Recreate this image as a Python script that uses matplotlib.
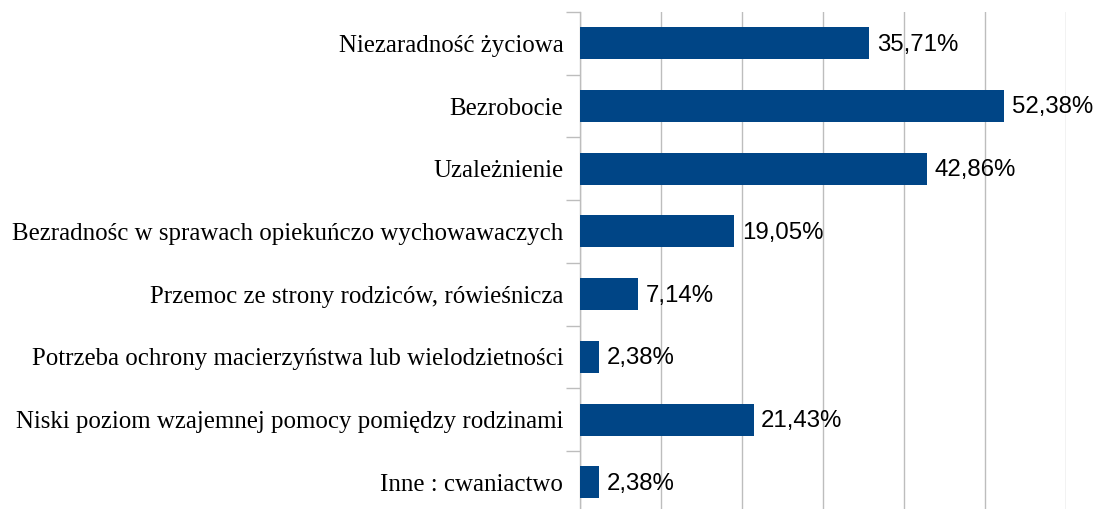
import numpy as np
import matplotlib.pyplot as plt

categories = [
    'Niezaradność życiowa',
    'Bezrobocie',
    'Uzależnienie',
    'Bezradnośc w sprawach opiekuńczo wychowawaczych',
    'Przemoc ze strony rodziców, rówieśnicza',
    'Potrzeba ochrony macierzyństwa lub wielodzietności',
    'Niski poziom wzajemnej pomocy pomiędzy rodzinami',
    'Inne : cwaniactwo',
]
values = [35.71, 52.38, 42.86, 19.05, 7.14, 2.38, 21.43, 2.38]
value_labels = ['35,71%', '52,38%', '42,86%', '19,05%', '7,14%', '2,38%', '21,43%', '2,38%']

bar_color = '#004586'
grid_color = '#bdbdbd'

fig = plt.figure(figsize=(10.97, 5.09), dpi=100)
# axes runs slightly past the bottom edge, like the original
ax = fig.add_axes([580/1097, -4.6/509, 486/1097, 501.6/509])

y = np.arange(len(categories))
ax.barh(y, values, height=0.51, color=bar_color, zorder=3)

for yi, v, lab in zip(y, values, value_labels):
    ax.annotate(lab, (v, yi), xytext=(5.5, -1), textcoords='offset points',
                va='center', ha='left', fontsize=17.3,
                family='Liberation Sans', color='black')

ax.set_xlim(0, 60)
ax.set_ylim(len(categories) - 0.5, -0.5)
ax.set_xticks(np.arange(0, 61, 10))
ax.xaxis.grid(True, color=grid_color, linewidth=1.0, zorder=0)
ax.tick_params(axis='x', length=0, labelbottom=False)

ax.set_yticks(np.arange(len(categories) + 1) - 0.5)
ax.set_yticklabels([])
ax.set_yticks(y, minor=True)
ax.set_yticklabels(categories, minor=True, family='Liberation Serif', fontsize=17.9)
ax.tick_params(axis='y', which='major', length=10, width=1.0, color=grid_color)
ax.tick_params(axis='y', which='minor', length=0, pad=12)

for s in ['top', 'right', 'bottom']:
    ax.spines[s].set_visible(False)
ax.spines['left'].set_color(grid_color)
ax.spines['left'].set_linewidth(1.0)

fig.savefig('out.png', dpi=100)
